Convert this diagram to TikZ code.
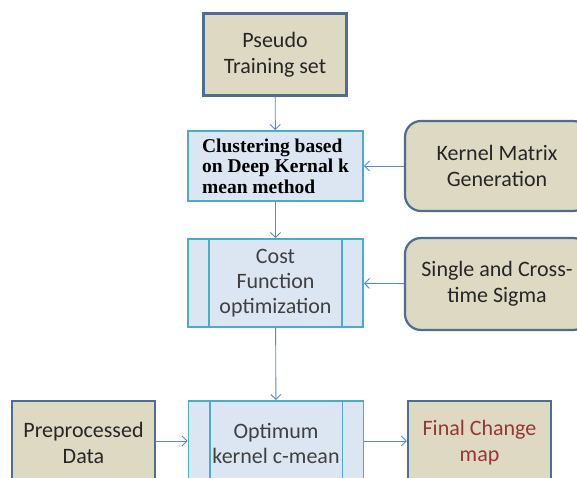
\documentclass[tikz,border=0pt]{standalone}
\usepackage{fontspec}
\setmainfont{Carlito}
\newfontfamily\clusterfont{Liberation Serif}
\usetikzlibrary{shapes,arrows.meta,positioning,calc}

\definecolor{tanfill}{HTML}{DDD9C3}
\definecolor{tanline}{HTML}{4F6D8F}
\definecolor{procfill}{HTML}{DCE6F2}
\definecolor{procline}{HTML}{4BACC6}
\definecolor{flowline}{HTML}{5B8BC6}
\definecolor{finaltext}{HTML}{953735}

\begin{document}
\begin{tikzpicture}[x=1pt, y=-1pt,
    data/.style={draw=tanline, fill=tanfill, line width=2.2pt, rectangle, minimum width=143pt,
        minimum height=82pt, align=center, text=black!85, font=\fontsize{22}{26}\selectfont},
    source/.style={data, rounded corners=16pt, minimum width=184pt, minimum height=90pt},
    task/.style={draw=procline, fill=procfill, line width=1.8pt, rectangle, minimum width=175pt,
        minimum height=70pt, align=center, text=black!75, font=\fontsize{22}{25}\selectfont},
    flow/.style={draw=flowline, line width=0.9pt, -{Straight Barb[length=5pt,width=10pt]}}]

\useasboundingbox (0,0) rectangle (577,478);

% Main column
\node[data] (pseudo) at (275,54.5) {Pseudo\\Training set};
\node[task, align=left, text=black, font=\clusterfont\bfseries\fontsize{19.5}{20.5}\selectfont]
    (cluster) at (275.5,166) {Clustering based\\on Deep Kernal k\\mean method};
\node[task, minimum height=88pt] (cost) at (275.5,283) {Cost\\Function\\optimization};
\node[task, minimum height=84pt] (optimum) at (276,443) {Optimum\\kernel c-mean};

% Side inputs
\node[source] (kernel) at (497,166) {Kernel Matrix\\Generation};
\node[source, minimum height=92pt] (sigma) at (497,284) {Single and Cross-\\time Sigma};

% Bottom row
\node[data, minimum height=84pt] (preproc) at (83.5,443) {Preprocessed\\Data};
\node[data, minimum height=84pt, text=finaltext] (final) at (479.5,443) {Final Change\\map};

% Inner bars of the process boxes
\foreach \n in {cost,optimum}{
  \draw[procline, line width=1.8pt] ([xshift=22pt]\n.north west) -- ([xshift=22pt]\n.south west);
  \draw[procline, line width=1.8pt] ([xshift=-22pt]\n.north east) -- ([xshift=-22pt]\n.south east);
}

% Connectors
\draw[flow] (pseudo) -- (cluster);
\draw[flow] (kernel) -- (cluster);
\draw[flow] (cluster) -- (cost);
\draw[flow] (sigma) -- (cost);
\draw[flow] (cost) -- (optimum);
\draw[flow] (preproc.east |- 0,441) -- (optimum.west |- 0,441);
\draw[flow] (optimum.east |- 0,441) -- (final.west |- 0,441);
\end{tikzpicture}
\end{document}
